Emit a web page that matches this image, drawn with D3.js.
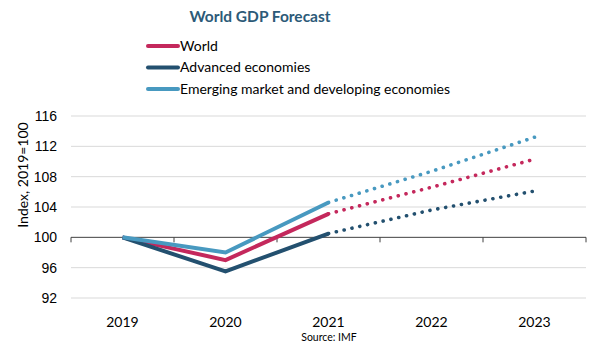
<!DOCTYPE html>
<html>
<head>
<meta charset="utf-8">
<script src="https://cdn.jsdelivr.net/npm/d3@7"></script>
<style>
    body { margin: 0; background: #fff; }
    svg { font-family: Lato, "Open Sans", sans-serif; }
    .grid line { stroke: #d9d9d9; stroke-width: 1; }
    .tick-label { font-size: 14px; fill: #000; }
</style>
</head>
<body>
<svg id="chart" width="600" height="349"></svg>
<script>
// data
const years = ["2019", "2020", "2021", "2022", "2023"];
const yTicks = [92, 96, 100, 104, 108, 112, 116];
const world = [100, 97.0, 103.1, 106.6, 110.3];
const advanced = [100, 95.5, 100.5, 103.6, 106.1];
const emerging = [100, 98.0, 104.6, 108.7, 113.2];

const series = [
    {name: "World", values: world, color: "#c4285c"},
    {name: "Advanced economies", values: advanced, color: "#23506f"},
    {name: "Emerging market and developing economies", values: emerging, color: "#4899c0"}
];

const lastActual = 2; // index of 2021, forecast after that

const svg = d3.select("#chart");
const margins = {left: 71, right: 14, top: 116, bottom: 51};
const width = 600, height = 349;

const x = d3.scaleBand()
    .domain(years)
    .range([margins.left, width - margins.right]);

const y = d3.scaleLinear()
    .domain([92, 116])
    .range([height - margins.bottom, margins.top]);

// title
svg.append("text")
    .attr("x", 260)
    .attr("y", 22)
    .attr("text-anchor", "middle")
    .style("font-size", "15.5px")
    .style("font-weight", "bold")
    .style("fill", "#2c5a78")
    .text("World GDP Forecast");

// legend
const legend = svg.append("g");
series.forEach((s, i) => {
    const ly = 46 + i * 21.5;
    legend.append("line")
        .attr("x1", 148).attr("x2", 178)
        .attr("y1", ly).attr("y2", ly)
        .attr("stroke", s.color)
        .attr("stroke-width", 4)
        .attr("stroke-linecap", "round");
    legend.append("text")
        .attr("x", 180)
        .attr("y", ly)
        .attr("dy", "0.35em")
        .style("font-size", "14px")
        .text(s.name);
});

// gridlines
svg.append("g")
    .attr("class", "grid")
    .selectAll("line")
    .data(yTicks.filter(d => d !== 100))
    .enter()
    .append("line")
    .attr("x1", margins.left)
    .attr("x2", width - margins.right)
    .attr("y1", d => y(d))
    .attr("y2", d => y(d));

// y tick labels
const yAxis = d3.axisLeft(y).tickValues(yTicks).tickSize(0).tickPadding(14);
svg.append("g")
    .attr("transform", `translate(${margins.left},0)`)
    .call(yAxis)
    .call(g => g.select(".domain").remove())
    .call(g => g.selectAll("text").attr("class", "tick-label").style("font-family", null));

// category axis at the 100 line
const xAxis = d3.axisBottom(x).tickSize(0).tickFormat("");
const axisG = svg.append("g")
    .attr("transform", `translate(0,${y(100)})`)
    .call(xAxis);
axisG.select(".domain").attr("stroke", "#404040").attr("d", `M${margins.left},0H${width - margins.right}`);
axisG.selectAll(".tick").remove();

const bounds = years.map(yr => x(yr)).concat([x.range()[1]]);
axisG.selectAll(".cat-tick")
    .data(bounds)
    .enter()
    .append("line")
    .attr("class", "cat-tick")
    .attr("x1", d => d).attr("x2", d => d)
    .attr("y1", 0).attr("y2", 5)
    .attr("stroke", "#404040");

// x labels at bottom
svg.append("g")
    .selectAll("text")
    .data(years)
    .enter()
    .append("text")
    .attr("class", "tick-label")
    .attr("x", d => x(d) + x.bandwidth() / 2)
    .attr("y", 327)
    .attr("text-anchor", "middle")
    .text(d => d);

// y axis title
svg.append("text")
    .attr("transform", "rotate(-90)")
    .attr("x", -175)
    .attr("y", 28)
    .attr("text-anchor", "middle")
    .style("font-size", "14px")
    .text("Index, 2019=100");

// source
svg.append("text")
    .attr("x", 329)
    .attr("y", 341)
    .attr("text-anchor", "middle")
    .style("font-size", "10.5px")
    .text("Source: IMF");

// lines
const line = d3.line()
    .x(d => x(d.year) + x.bandwidth() / 2)
    .y(d => y(d.value));

series.forEach(s => {
    const pts = s.values.map((v, i) => ({year: years[i], value: v}));
    svg.append("path")
        .datum(pts.slice(lastActual))
        .attr("d", line)
        .attr("fill", "none")
        .attr("stroke", s.color)
        .attr("stroke-width", 3.6)
        .attr("stroke-linecap", "round")
        .attr("stroke-dasharray", "0.1 7.9");
    svg.append("path")
        .datum(pts.slice(0, lastActual + 1))
        .attr("d", line)
        .attr("fill", "none")
        .attr("stroke", s.color)
        .attr("stroke-width", 4)
        .attr("stroke-linejoin", "miter");
});
</script>
</body>
</html>
